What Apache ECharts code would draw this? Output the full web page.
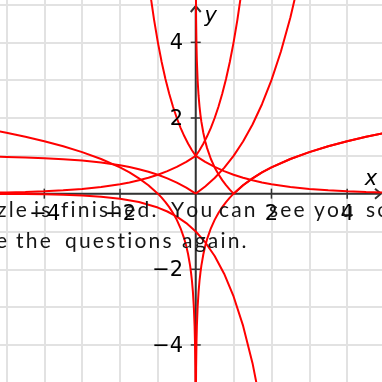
<!DOCTYPE html>
<html><head><meta charset="utf-8">
<script src="https://cdn.jsdelivr.net/npm/echarts@6/dist/echarts.min.js"></script>
<style>html,body{margin:0;padding:0;background:#fff;overflow:hidden}#c{width:382px;height:382px}</style>
</head><body><div id="c"></div>
<script>
// ---- view window and tick values ----
const X_RANGE = [-5.17, 4.92];
const Y_RANGE = [-4.98, 5.12];
const GRID_VALUES_X = [-5, -4, -3, -2, -1, 0, 1, 2, 3, 4];
const GRID_VALUES_Y = [-4, -3, -2, -1, 0, 1, 2, 3, 4, 5];
const TICK_LABELS_X = [-4, -2, 2, 4];
const TICK_LABELS_Y = [-4, -2, 2, 4];
const AXIS_NAMES = ['x', 'y'];
const MESSAGE_LINE_1 = ['zle', 'is', 'finished.', 'You', 'can', 'see', 'you', 'so'];
const MESSAGE_LINE_2 = ['e', 'the', 'questions', 'again.'];

// ---- curves ----
// y = 4^|x|
const pow4Left = [[-1.2,5.278],[-1.1,4.595],[-1.0,4.0],[-0.9,3.482],[-0.8,3.031],[-0.7,2.639],[-0.6,2.297],[-0.5,2.0],[-0.4,1.741],[-0.3,1.516],[-0.2,1.320],[-0.1,1.149],[0,1]];
const pow4Right = [[0,1],[0.1,1.149],[0.2,1.320],[0.3,1.516],[0.4,1.741],[0.5,2.0],[0.6,2.297],[0.7,2.639],[0.8,3.031],[0.9,3.482],[1.0,4.0],[1.1,4.595],[1.2,5.278]];
// y = 2^-|x|
const halfLeft = [[-5.2,0.027],[-5,0.031],[-4.5,0.044],[-4,0.063],[-3.5,0.088],[-3,0.125],[-2.5,0.177],[-2,0.25],[-1.75,0.297],[-1.5,0.354],[-1.25,0.42],[-1,0.5],[-0.75,0.595],[-0.5,0.707],[-0.25,0.841],[0,1]];
const halfRight = [[0,1],[0.25,0.841],[0.5,0.707],[0.75,0.595],[1,0.5],[1.25,0.42],[1.5,0.354],[1.75,0.297],[2,0.25],[2.5,0.177],[3,0.125],[3.5,0.088],[4,0.063],[4.5,0.044],[5,0.031]];
// y = |2^x - 1|
const absPowLeft = [[-5.2,0.973],[-5,0.969],[-4.5,0.956],[-4,0.938],[-3.5,0.912],[-3,0.875],[-2.5,0.823],[-2,0.75],[-1.75,0.703],[-1.5,0.646],[-1.25,0.58],[-1,0.5],[-0.75,0.405],[-0.5,0.293],[-0.25,0.159],[0,0]];
const absPowRight = [[0,0],[0.25,0.189],[0.5,0.414],[0.75,0.682],[1,1],[1.25,1.378],[1.5,1.828],[1.75,2.364],[2,3],[2.25,3.757],[2.5,4.657],[2.75,5.727]];
// y = |ln x|
const absLnLeft = [[0.005,5.298],[0.01,4.605],[0.02,3.912],[0.03,3.507],[0.05,2.996],[0.075,2.59],[0.1,2.303],[0.125,2.079],[0.15,1.897],[0.2,1.609],[0.25,1.386],[0.3,1.204],[0.4,0.916],[0.5,0.693],[0.6,0.511],[0.7,0.357],[0.8,0.223],[0.9,0.105],[1,0]];
const absLnRight = [[1,0],[1.25,0.223],[1.5,0.405],[1.75,0.56],[2,0.693],[2.5,0.916],[3,1.099],[3.5,1.253],[4,1.386],[4.5,1.504],[5,1.609]];
// y = ln|x|
const lnAbsLeft = [[-5.2,1.649],[-5,1.609],[-4.5,1.504],[-4,1.386],[-3.5,1.253],[-3,1.099],[-2.5,0.916],[-2,0.693],[-1.75,0.56],[-1.5,0.405],[-1.25,0.223],[-1,0],[-0.9,-0.105],[-0.8,-0.223],[-0.7,-0.357],[-0.6,-0.511],[-0.5,-0.693],[-0.4,-0.916],[-0.3,-1.204],[-0.25,-1.386],[-0.2,-1.609],[-0.15,-1.897],[-0.125,-2.079],[-0.1,-2.303],[-0.075,-2.59],[-0.05,-2.996],[-0.03,-3.507],[-0.02,-3.912],[-0.01,-4.605],[-0.005,-5.298]];
const lnAbsRight = [[0.005,-5.298],[0.01,-4.605],[0.02,-3.912],[0.03,-3.507],[0.05,-2.996],[0.075,-2.59],[0.1,-2.303],[0.125,-2.079],[0.15,-1.897],[0.2,-1.609],[0.25,-1.386],[0.3,-1.204],[0.4,-0.916],[0.5,-0.693],[0.6,-0.511],[0.7,-0.357],[0.8,-0.223],[0.9,-0.105],[1,0],[1.25,0.223],[1.5,0.405],[1.75,0.56],[2,0.693],[2.5,0.916],[3,1.099],[3.5,1.253],[4,1.386],[4.5,1.504],[5,1.609]];
// y = -e^x
const negExp = [[-5.2,-0.006],[-5,-0.007],[-4.5,-0.011],[-4,-0.018],[-3.5,-0.03],[-3,-0.05],[-2.5,-0.082],[-2,-0.135],[-1.5,-0.223],[-1,-0.368],[-0.75,-0.472],[-0.5,-0.607],[-0.25,-0.779],[0,-1],[0.25,-1.284],[0.5,-1.649],[0.75,-2.117],[1,-2.718],[1.25,-3.49],[1.5,-4.482],[1.75,-5.755]];

const CURVES = [pow4Left, pow4Right, halfLeft, halfRight, absPowLeft, absPowRight, absLnLeft, absLnRight, lnAbsLeft, lnAbsRight, negExp];

const chart = echarts.init(document.getElementById('c'), null, {renderer: 'canvas', width: 382, height: 382});
const fmt = v => String(v).replace('-', '\u2212');

chart.setOption({
  animation: false,
  grid: {left: 0, right: 0, top: 0, bottom: 0, containLabel: false, outerBoundsMode: 'none'},
  xAxis: {
    type: 'value', min: X_RANGE[0], max: X_RANGE[1],
    axisLine: {show: true, onZero: true, lineStyle: {opacity: 0}},
    axisTick: {show: false, customValues: GRID_VALUES_X},
    splitLine: {show: true, lineStyle: {color: '#e2e2e2', width: 2}},
    axisLabel: {show: false}
  },
  yAxis: {
    type: 'value', min: Y_RANGE[0], max: Y_RANGE[1],
    axisLine: {show: true, onZero: true, lineStyle: {opacity: 0}},
    axisTick: {show: false, customValues: GRID_VALUES_Y},
    splitLine: {show: true, lineStyle: {color: '#e2e2e2', width: 2}},
    axisLabel: {show: false}
  },
  series: CURVES.map(d => ({
    type: 'line', data: d, symbol: 'none', showSymbol: false,
    smooth: false, silent: true, z: 3,
    lineStyle: {color: '#ff0000', width: 2}, itemStyle: {color: '#ff0000'}
  }))
});

// axes, ticks, tick labels, arrows, names and overlay message (placed through the axis scales)
const [ox, oy] = chart.convertToPixel({xAxisIndex: 0, yAxisIndex: 0}, [0, 0]);
const W = chart.getWidth(), H = chart.getHeight();
const axisColor = '#333';
const labelFont = '21px "DejaVu Sans"';
const els = [];
els.push({type: 'line', z: 1, shape: {x1: 0, y1: oy, x2: W - 1, y2: oy}, style: {stroke: axisColor, lineWidth: 2}});
els.push({type: 'line', z: 1, shape: {x1: ox, y1: H, x2: ox, y2: 6}, style: {stroke: axisColor, lineWidth: 2}});
els.push({type: 'polyline', z: 1, shape: {points: [[W - 7, oy - 5], [W - 1, oy], [W - 7, oy + 5]]}, style: {stroke: axisColor, lineWidth: 2, fill: null}});
els.push({type: 'polyline', z: 1, shape: {points: [[ox - 5, 12], [ox, 6], [ox + 5, 12]]}, style: {stroke: axisColor, lineWidth: 2, fill: null}});
TICK_LABELS_X.forEach(v => {
  const px = chart.convertToPixel({xAxisIndex: 0}, v);
  els.push({type: 'line', z: 1, shape: {x1: px, y1: oy - 5, x2: px, y2: oy + 5}, style: {stroke: axisColor, lineWidth: 1.5}});
  els.push({type: 'text', z: 6, x: px + (v < 0 ? 0.5 : 0), y: oy + 21, style: {text: fmt(v), font: labelFont, fill: '#000', align: 'center', verticalAlign: 'middle'}});
});
TICK_LABELS_Y.forEach(v => {
  const py = chart.convertToPixel({yAxisIndex: 0}, v);
  els.push({type: 'line', z: 1, shape: {x1: ox - 5, y1: py, x2: ox + 5, y2: py}, style: {stroke: axisColor, lineWidth: 1.5}});
  els.push({type: 'text', z: 6, x: ox - 12.5, y: py + 1.2, style: {text: fmt(v), font: labelFont, fill: '#000', align: 'right', verticalAlign: 'middle'}});
});
els.push({type: 'text', z: 6, x: W - 11, y: oy - 14, style: {text: AXIS_NAMES[0], font: 'italic 21px "DejaVu Sans"', fill: '#000', align: 'center', verticalAlign: 'middle'}});
els.push({type: 'text', z: 6, x: ox + 15, y: 17, style: {text: AXIS_NAMES[1], font: 'italic 21px "DejaVu Sans"', fill: '#000', align: 'center', verticalAlign: 'middle'}});

// message text (wide letter spacing, words placed where they sit in the picture)
const msgSize = 21;
const msgFont = msgSize + 'px Lato';
const mctx = document.createElement('canvas').getContext('2d');
mctx.font = msgFont;
const spacing = 2.2;
const wordStarts1 = [-3, 34, 61, 171, 219, 269, 314, 366];
const wordStarts2 = [-4, 16, 65, 182];
function placeWords(words, starts, midY) {
  words.forEach((w, wi) => {
    let x = starts[wi];
    for (const ch of w) {
      els.push({type: 'text', z: 10, x: x, y: midY, style: {text: ch, font: msgFont, fill: '#161616', align: 'left', verticalAlign: 'middle'}});
      x += mctx.measureText(ch).width + spacing;
    }
  });
}
placeWords(MESSAGE_LINE_1, wordStarts1, 218.8 - 0.387 * msgSize);
placeWords(MESSAGE_LINE_2, wordStarts2, 249.8 - 0.387 * msgSize);
chart.setOption({graphic: {elements: els}});
</script></body></html>
